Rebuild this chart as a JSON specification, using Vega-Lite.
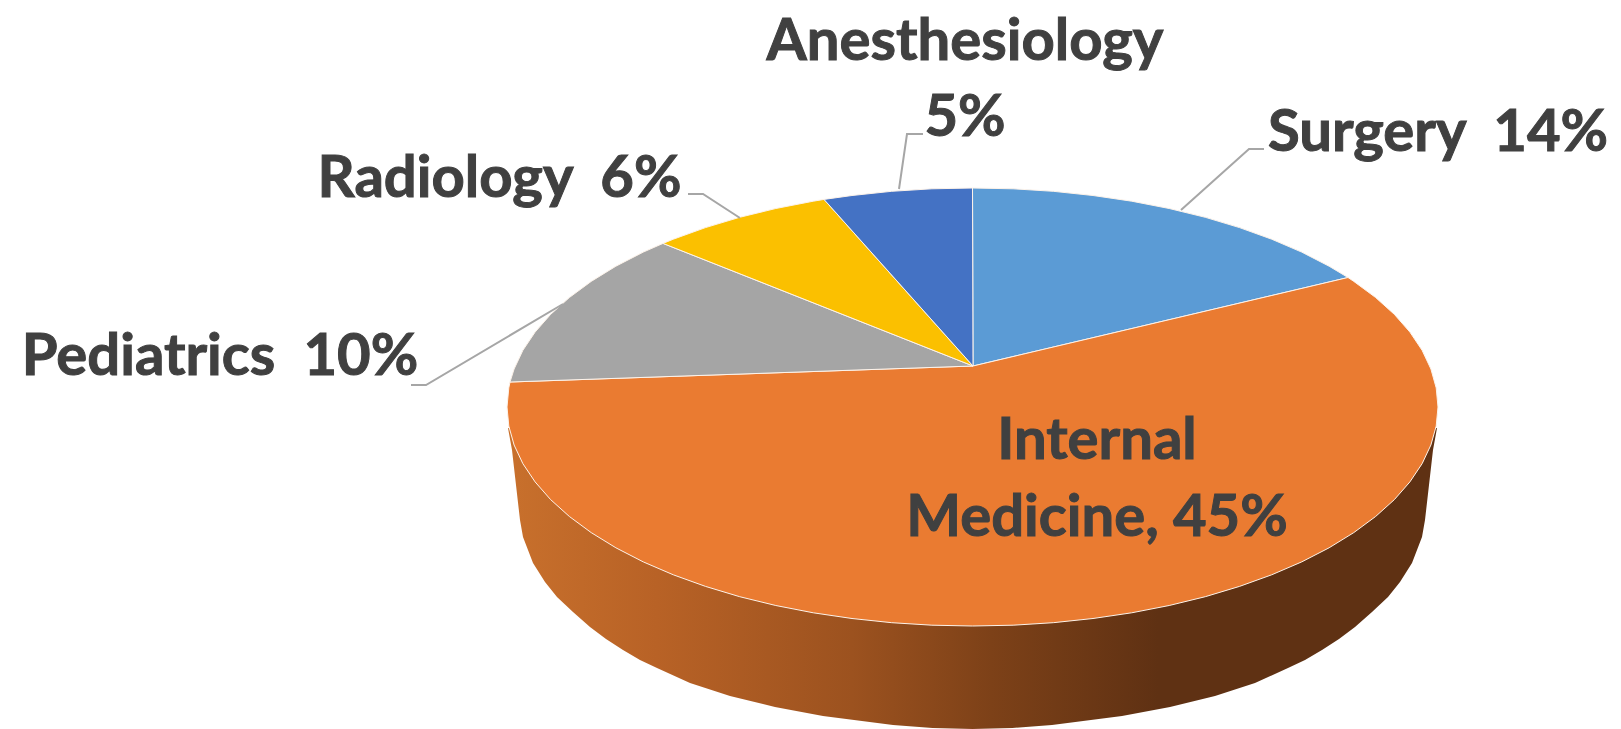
{"$schema":"https://vega.github.io/schema/vega-lite/v6.json","width":1621,"height":729,"padding":0,"autosize":{"type":"fit","contains":"padding"},"background":"white","config":{"view":{"stroke":null}},
"datasets":{
"side":[{"o":1,"x":508,"y":428},{"o":2,"x":512,"y":450},{"o":3,"x":520,"y":520},{"o":4,"x":523,"y":537},{"o":5,"x":533,"y":563},{"o":6,"x":545,"y":582},{"o":7,"x":557,"y":597},{"o":8,"x":573,"y":612},{"o":9,"x":590,"y":627},{"o":10,"x":606,"y":639},{"o":11,"x":623,"y":650},{"o":12,"x":640,"y":660},{"o":13,"x":657,"y":668},{"o":14,"x":690,"y":683},{"o":15,"x":730,"y":696},{"o":16,"x":775,"y":707},{"o":17,"x":823,"y":716},{"o":18,"x":893,"y":725},{"o":19,"x":932.6,"y":728},{"o":20,"x":972.5,"y":729},{"o":21,"x":1012.4,"y":728},{"o":22,"x":1052,"y":725},{"o":23,"x":1122,"y":716},{"o":24,"x":1170,"y":707},{"o":25,"x":1215,"y":696},{"o":26,"x":1255,"y":683},{"o":27,"x":1288,"y":668},{"o":28,"x":1305,"y":660},{"o":29,"x":1322,"y":650},{"o":30,"x":1339,"y":639},{"o":31,"x":1355,"y":627},{"o":32,"x":1372,"y":612},{"o":33,"x":1388,"y":597},{"o":34,"x":1400,"y":582},{"o":35,"x":1412,"y":563},{"o":36,"x":1422,"y":537},{"o":37,"x":1425,"y":520},{"o":38,"x":1433,"y":450},{"o":39,"x":1437,"y":428},{"o":40,"x":972.5,"y":500},{"o":41,"x":508,"y":428}],
"slices":[
{"slice":"Surgery","o":1,"x":973,"y":366},{"slice":"Surgery","o":2,"x":972.5,"y":188},{"slice":"Surgery","o":3,"x":1013.1,"y":188.8},{"slice":"Surgery","o":4,"x":1053.3,"y":191.3},{"slice":"Surgery","o":5,"x":1093,"y":195.5},{"slice":"Surgery","o":6,"x":1131.7,"y":201.2},{"slice":"Surgery","o":7,"x":1169.2,"y":208.5},{"slice":"Surgery","o":8,"x":1205.3,"y":217.3},{"slice":"Surgery","o":9,"x":1239.5,"y":227.6},{"slice":"Surgery","o":10,"x":1271.7,"y":239.2},{"slice":"Surgery","o":11,"x":1301.7,"y":252.1},{"slice":"Surgery","o":12,"x":1329.1,"y":266.2},{"slice":"Surgery","o":13,"x":1348,"y":277.5},{"slice":"Surgery","o":14,"x":973,"y":366},
{"slice":"Internal Medicine","o":1,"x":973,"y":366},{"slice":"Internal Medicine","o":2,"x":1348,"y":277.5},{"slice":"Internal Medicine","o":3,"x":1353.8,"y":281.4},{"slice":"Internal Medicine","o":4,"x":1375.6,"y":297.5},{"slice":"Internal Medicine","o":5,"x":1394.4,"y":314.4},{"slice":"Internal Medicine","o":6,"x":1409.9,"y":332.1},{"slice":"Internal Medicine","o":7,"x":1422.1,"y":350.3},{"slice":"Internal Medicine","o":8,"x":1430.9,"y":369},{"slice":"Internal Medicine","o":9,"x":1436.2,"y":387.9},{"slice":"Internal Medicine","o":10,"x":1438,"y":407},{"slice":"Internal Medicine","o":11,"x":1436.2,"y":426.1},{"slice":"Internal Medicine","o":12,"x":1430.9,"y":445},{"slice":"Internal Medicine","o":13,"x":1422.1,"y":463.7},{"slice":"Internal Medicine","o":14,"x":1409.9,"y":481.9},{"slice":"Internal Medicine","o":15,"x":1394.4,"y":499.6},{"slice":"Internal Medicine","o":16,"x":1375.6,"y":516.5},{"slice":"Internal Medicine","o":17,"x":1353.8,"y":532.6},{"slice":"Internal Medicine","o":18,"x":1329.1,"y":547.8},{"slice":"Internal Medicine","o":19,"x":1301.7,"y":561.9},{"slice":"Internal Medicine","o":20,"x":1271.7,"y":574.8},{"slice":"Internal Medicine","o":21,"x":1239.5,"y":586.4},{"slice":"Internal Medicine","o":22,"x":1205.3,"y":596.7},{"slice":"Internal Medicine","o":23,"x":1169.2,"y":605.5},{"slice":"Internal Medicine","o":24,"x":1131.7,"y":612.8},{"slice":"Internal Medicine","o":25,"x":1093,"y":618.5},{"slice":"Internal Medicine","o":26,"x":1053.3,"y":622.7},{"slice":"Internal Medicine","o":27,"x":1013.1,"y":625.2},{"slice":"Internal Medicine","o":28,"x":972.5,"y":626},{"slice":"Internal Medicine","o":29,"x":931.9,"y":625.2},{"slice":"Internal Medicine","o":30,"x":891.7,"y":622.7},{"slice":"Internal Medicine","o":31,"x":852,"y":618.5},{"slice":"Internal Medicine","o":32,"x":813.3,"y":612.8},{"slice":"Internal Medicine","o":33,"x":775.8,"y":605.5},{"slice":"Internal Medicine","o":34,"x":739.7,"y":596.7},{"slice":"Internal Medicine","o":35,"x":705.5,"y":586.4},{"slice":"Internal Medicine","o":36,"x":673.3,"y":574.8},{"slice":"Internal Medicine","o":37,"x":643.3,"y":561.9},{"slice":"Internal Medicine","o":38,"x":615.9,"y":547.8},{"slice":"Internal Medicine","o":39,"x":591.2,"y":532.6},{"slice":"Internal Medicine","o":40,"x":569.4,"y":516.5},{"slice":"Internal Medicine","o":41,"x":550.6,"y":499.6},{"slice":"Internal Medicine","o":42,"x":535.1,"y":481.9},{"slice":"Internal Medicine","o":43,"x":522.9,"y":463.7},{"slice":"Internal Medicine","o":44,"x":514.1,"y":445},{"slice":"Internal Medicine","o":45,"x":508.8,"y":426.1},{"slice":"Internal Medicine","o":46,"x":507,"y":407},{"slice":"Internal Medicine","o":47,"x":508.8,"y":387.9},{"slice":"Internal Medicine","o":48,"x":510,"y":382},{"slice":"Internal Medicine","o":49,"x":973,"y":366},
{"slice":"Pediatrics","o":1,"x":973,"y":366},{"slice":"Pediatrics","o":2,"x":510,"y":382},{"slice":"Pediatrics","o":3,"x":514.1,"y":369},{"slice":"Pediatrics","o":4,"x":522.9,"y":350.3},{"slice":"Pediatrics","o":5,"x":535.1,"y":332.1},{"slice":"Pediatrics","o":6,"x":550.6,"y":314.4},{"slice":"Pediatrics","o":7,"x":569.4,"y":297.5},{"slice":"Pediatrics","o":8,"x":591.2,"y":281.4},{"slice":"Pediatrics","o":9,"x":615.9,"y":266.2},{"slice":"Pediatrics","o":10,"x":643.3,"y":252.1},{"slice":"Pediatrics","o":11,"x":663,"y":243.4},{"slice":"Pediatrics","o":12,"x":973,"y":366},
{"slice":"Radiology","o":1,"x":973,"y":366},{"slice":"Radiology","o":2,"x":663,"y":243.4},{"slice":"Radiology","o":3,"x":673.3,"y":239.2},{"slice":"Radiology","o":4,"x":705.5,"y":227.6},{"slice":"Radiology","o":5,"x":739.7,"y":217.3},{"slice":"Radiology","o":6,"x":775.8,"y":208.5},{"slice":"Radiology","o":7,"x":813.3,"y":201.2},{"slice":"Radiology","o":8,"x":824,"y":199.4},{"slice":"Radiology","o":9,"x":973,"y":366},
{"slice":"Anesthesiology","o":1,"x":973,"y":366},{"slice":"Anesthesiology","o":2,"x":824,"y":199.4},{"slice":"Anesthesiology","o":3,"x":852,"y":195.5},{"slice":"Anesthesiology","o":4,"x":891.7,"y":191.3},{"slice":"Anesthesiology","o":5,"x":931.9,"y":188.8},{"slice":"Anesthesiology","o":6,"x":972.5,"y":188},{"slice":"Anesthesiology","o":7,"x":973,"y":366}],
"leaders":[
{"slice":"Surgery","o":1,"x":1181,"y":210},{"slice":"Surgery","o":2,"x":1249,"y":149},{"slice":"Surgery","o":3,"x":1264,"y":149},
{"slice":"Anesthesiology","o":1,"x":899,"y":189},{"slice":"Anesthesiology","o":2,"x":907,"y":134},{"slice":"Anesthesiology","o":3,"x":923,"y":134},
{"slice":"Radiology","o":1,"x":740,"y":218},{"slice":"Radiology","o":2,"x":703,"y":194},{"slice":"Radiology","o":3,"x":688,"y":194},
{"slice":"Pediatrics","o":1,"x":563,"y":304},{"slice":"Pediatrics","o":2,"x":426,"y":385},{"slice":"Pediatrics","o":3,"x":411,"y":385}],
"labels":[
{"label":"Anesthesiology","x":965,"y":60},{"label":"5%","x":965,"y":135.5},{"label":"Surgery\u00a0\u00a014%","x":1438,"y":151},{"label":"Radiology\u00a0\u00a06%","x":499.5,"y":196.5},{"label":"Pediatrics\u00a0\u00a010%","x":220,"y":375},{"label":"Internal","x":1097,"y":459},{"label":"Medicine, 45%","x":1097,"y":535.6}]
},
"layer":[
{"data":{"name":"side"},"mark":{"type":"line","clip":true,"strokeWidth":0,"fill":{"gradient":"linear","x1":0,"x2":1,"y1":0,"y2":0,"stops":[{"offset":0,"color":"#c8702c"},{"offset":0.16,"color":"#b86226"},{"offset":0.37,"color":"#9c521f"},{"offset":0.52,"color":"#7d4118"},{"offset":0.7,"color":"#5f3113"},{"offset":1,"color":"#5f3113"}]}},
"encoding":{"x":{"field":"x","type":"quantitative","scale":{"domain":[0,1621],"nice":false,"zero":false},"axis":null},"y":{"field":"y","type":"quantitative","scale":{"domain":[729,0],"nice":false,"zero":false},"axis":null},"order":{"field":"o","type":"quantitative"}}},
{"data":{"name":"slices"},"mark":{"type":"line","stroke":"#fdf3ea","strokeWidth":1,"strokeJoin":"round"},
"encoding":{"x":{"field":"x","type":"quantitative","axis":null},"y":{"field":"y","type":"quantitative","axis":null},"order":{"field":"o","type":"quantitative"},"detail":{"field":"slice"},"fill":{"field":"slice","type":"nominal","legend":null,"scale":{"domain":["Surgery","Internal Medicine","Pediatrics","Radiology","Anesthesiology"],"range":["#5B9BD5","#EA7B31","#A5A5A5","#FBC000","#4472C4"]}}}},
{"data":{"name":"leaders"},"mark":{"type":"line","stroke":"#A6A6A6","strokeWidth":2},
"encoding":{"x":{"field":"x","type":"quantitative","axis":null},"y":{"field":"y","type":"quantitative","axis":null},"order":{"field":"o","type":"quantitative"},"detail":{"field":"slice"}}},
{"data":{"name":"labels"},"mark":{"type":"text","font":"Lato","fontWeight":"bold","fontSize":58,"color":"#404040","stroke":"#404040","strokeWidth":1,"align":"center","baseline":"alphabetic"},
"encoding":{"x":{"field":"x","type":"quantitative","axis":null},"y":{"field":"y","type":"quantitative","axis":null},"text":{"field":"label"}}}
]}
